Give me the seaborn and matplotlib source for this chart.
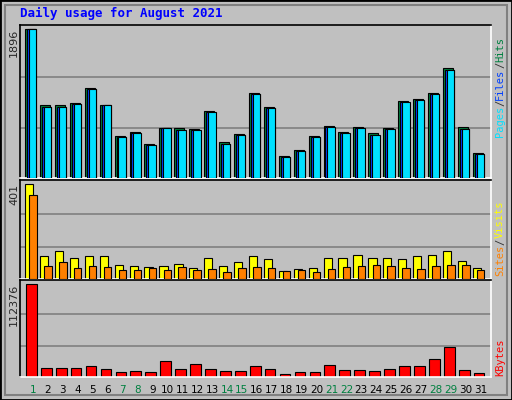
import matplotlib
matplotlib.use("Agg")
import matplotlib.pyplot as plt
import seaborn as sns
import numpy as np
from matplotlib.patches import Rectangle

sns.set_style("white")
plt.rcParams['font.family'] = ['DejaVu Sans Mono', 'DejaVu Sans']

days = list(range(1, 32))
hits = [1896, 931, 931, 957, 1150, 931, 532, 583, 429, 635, 635, 622, 854, 455, 558,
        1085, 905, 275, 352, 532, 661, 583, 648, 571, 635, 982, 1008, 1085, 1394, 648, 313]
files = [1896, 905, 905, 944, 1137, 931, 519, 570, 416, 635, 610, 610, 841, 429, 545,
         1072, 892, 262, 339, 519, 648, 570, 635, 545, 622, 969, 995, 1072, 1381, 622, 300]
pages = [1896, 905, 905, 944, 1137, 931, 519, 570, 416, 635, 610, 610, 841, 429, 545,
         1072, 892, 262, 339, 519, 648, 570, 635, 545, 622, 969, 995, 1072, 1381, 622, 300]
sites = [401, 96, 118, 87, 96, 96, 61, 57, 52, 57, 65, 48, 87, 57, 70,
         96, 83, 35, 44, 48, 87, 87, 100, 87, 87, 83, 96, 100, 118, 78, 48]
visits = [353, 57, 70, 48, 57, 52, 39, 39, 48, 39, 52, 39, 44, 31, 48,
          52, 48, 35, 39, 31, 44, 52, 57, 61, 57, 48, 44, 57, 61, 61, 39]
kbytes = [112376, 11483, 11483, 11483, 12714, 10253, 6562, 7792, 6562, 18866, 10253, 15175, 10253, 7792, 7792,
          12714, 10253, 4101, 6562, 6562, 13944, 9023, 9023, 7792, 10253, 12714, 12714, 21327, 36091, 9023, 5332]
weekend = [1, 7, 8, 14, 15, 21, 22, 28, 29]

W, H = 512, 400
BG = "#C0C0C0"
fig = plt.figure(figsize=(W/100, H/100), dpi=100, facecolor=BG)
x = np.array(days)

def mkax(top, bottom):
    ax = fig.add_axes([20/W, 1-bottom/H, 471/W, (bottom-top)/H])
    ax.set_facecolor(BG)
    ax.set_xlim(1-0.87, 31+0.69)
    ax.set_xticks([]); ax.set_yticks([])
    for s in ["top", "left"]:
        ax.spines[s].set_color("black")
    for s in ["bottom", "right"]:
        ax.spines[s].set_color("white")
    for s in ax.spines.values():
        s.set_linewidth(1.2)
    return ax

def grid(ax, m):
    for f in (0.335, 0.68):
        ax.axhline(m*f, color="#808080", lw=1.2, zorder=0)

ax1 = mkax(25, 178)
m = max(hits)
ax1.set_ylim(0, m*(1+4/147))
grid(ax1, m)
ax1.bar(x-0.53, hits, width=0.67, align="edge", color="#008040", edgecolor="black", lw=0.8, zorder=2)
ax1.bar(x-0.40, files, width=0.6, align="edge", color="#0040FF", edgecolor="black", lw=0.8, zorder=3)
ax1.bar(x-0.27, pages, width=0.5, align="edge", color="#00E0FF", edgecolor="black", lw=0.8, zorder=4)

ax2 = mkax(180, 279)
m = max(sites)
ax2.set_ylim(0, m*(1+4/92))
grid(ax2, m)
ax2.bar(x-0.53, sites, width=0.55, align="edge", color="#FFFF00", edgecolor="black", lw=0.8, zorder=2)
ax2.bar(x-0.25, visits, width=0.5, align="edge", color="#FF8000", edgecolor="black", lw=0.8, zorder=3)

ax3 = mkax(280, 377)
m = max(kbytes)
ax3.set_ylim(0, m*(1+4/91))
grid(ax3, m)
ax3.bar(x-0.47, kbytes, width=0.72, align="edge", color="#FF0000", edgecolor="black", lw=0.8, zorder=2)
ax3.set_xticks(days)
ax3.set_xticklabels([str(d) for d in days], fontsize=7.5, family="DejaVu Sans")
ax3.tick_params(axis="x", length=0, pad=6)
for lab, d in zip(ax3.get_xticklabels(), days):
    lab.set_color("#008040" if d in weekend else "black")

fig.text(20/W, 1-13/H, "Daily usage for August 2021", color="#0000FF", fontsize=9,
         fontweight="bold", va="center", ha="left")

for val, ytop in ((max(hits), 29), (max(sites), 184), (max(kbytes), 284)):
    fig.text(14/W, 1-ytop/H, str(val), rotation=90, fontsize=8, va="top", ha="center",
             family="DejaVu Sans")

renderer = fig.canvas.get_renderer()
def rlegend(parts, ybottom):
    y = ybottom
    for txt, col in parts:
        t = fig.text(500/W, 1-y/H, txt, rotation=90, color=col, fontsize=7.5,
                     va="bottom", ha="center")
        bb = t.get_window_extent(renderer)
        y -= bb.height
rlegend([("Pages", "#00E0FF"), ("/", "#333333"), ("Files", "#0040FF"), ("/", "#333333"), ("Hits", "#008040")], 137)
rlegend([("Sites", "#FF8000"), ("/", "#333333"), ("Visits", "#FFFF00")], 276)
rlegend([("KBytes", "#FF0000")], 376)

fig.patches.append(Rectangle((0, 0), 1, 1, transform=fig.transFigure, fill=False,
                             edgecolor="black", lw=2))
fig.patches.append(Rectangle((5/W, 5/H), 1-10/W, 1-10/H, transform=fig.transFigure, fill=False,
                             edgecolor="#808080", lw=1.5))

fig.savefig("out.png", dpi=100, facecolor=BG)
